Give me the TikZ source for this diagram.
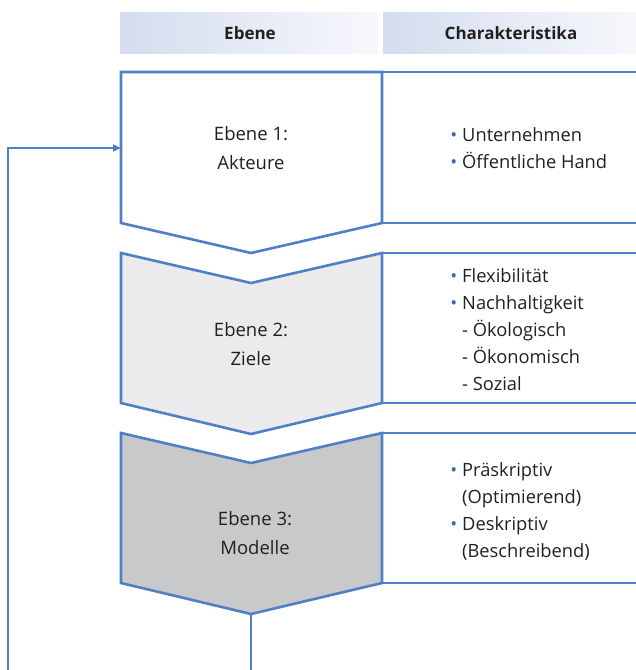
\documentclass[tikz,border=0pt]{standalone}
\usepackage{fontspec}
\setmainfont{Open Sans}
\usetikzlibrary{arrows.meta}
\definecolor{ln}{HTML}{4F80C4}
\definecolor{txt}{HTML}{231F20}
\definecolor{bul}{HTML}{2F6EB5}
\definecolor{hdl}{HTML}{D3DDEE}
\definecolor{hdr}{HTML}{F7F8FC}
\definecolor{fillB}{HTML}{EBEBEE}
\definecolor{fillC}{HTML}{C8C9CB}
\newcommand{\bu}{\llap{\textcolor{bul}{•}\hspace{5pt}}}
\begin{document}
\begin{tikzpicture}[x=1pt,y=-1pt,
  chev/.style={draw=ln, line width=2.6pt, line join=miter},
  rbox/.style={draw=ln, line width=2.6pt},
  hdrtext/.style={font=\bfseries\fontsize{17}{20}\selectfont, text=txt},
  lvl/.style={font=\fontsize{18.5}{29}\selectfont, text=txt, align=center},
  itm/.style={font=\fontsize{18.3}{27}\selectfont, text=txt, align=left, anchor=north west, inner sep=0pt},
  conn/.style={draw=ln, line width=2.6pt}]
\useasboundingbox (0,0) rectangle (636,670);
% headers
\shade[left color=hdl, right color=hdr] (120,12) rectangle (378,53);
\shade[left color=hdl, right color=hdr] (383,12) rectangle (640,53);
\node[hdrtext] (h1) at (250,33) {Ebene};
\node[hdrtext] (h2) at (511,33) {Charakteristika};
% right boxes
\draw[rbox] (382,72) rectangle (645,223);
\draw[rbox] (382,253) rectangle (645,403);
\draw[rbox] (382,433) rectangle (645,583);
% chevrons
\draw[chev, fill=white] (121,72) -- (382,72) -- (382,223) -- (251,253) -- (121,223) -- cycle;
\draw[chev, fill=fillB] (121,253) -- (251,283) -- (382,253) -- (382,403) -- (251,434) -- (121,403) -- cycle;
\draw[chev, fill=fillC] (121,433) -- (251,463) -- (382,433) -- (382,583) -- (251,614) -- (121,583) -- cycle;
\coordinate (c1in) at (121,148);
\coordinate (c3out) at (251,614);
\coordinate (e1) at (251,672);
\coordinate (e2) at (8,672);
% level labels
\node[lvl] (l1) at (251,148) {Ebene 1:\\Akteure};
\node[lvl] (l2) at (251,344) {Ebene 2:\\Ziele};
\node[lvl] (l3) at (255,533) {Ebene 3:\\Modelle};
% items
\node[itm] (i1) at (462,127) {\bu Unternehmen\\\bu Öffentliche Hand};
\node[itm] (i2) at (462,268) {\bu Flexibilität\\\bu Nachhaltigkeit\\- Ökologisch\\- Ökonomisch\\- Sozial};
\node[itm] (i3) at (462,462) {\bu Präskriptiv\\(Optimierend)\\\bu Deskriptiv\\(Beschreibend)};
% feedback connector
\draw[conn] (c3out) -- (e1);
\draw[conn, -{Triangle[length=8pt,width=7pt]}] (e2) |- (c1in);
\end{tikzpicture}
\end{document}
